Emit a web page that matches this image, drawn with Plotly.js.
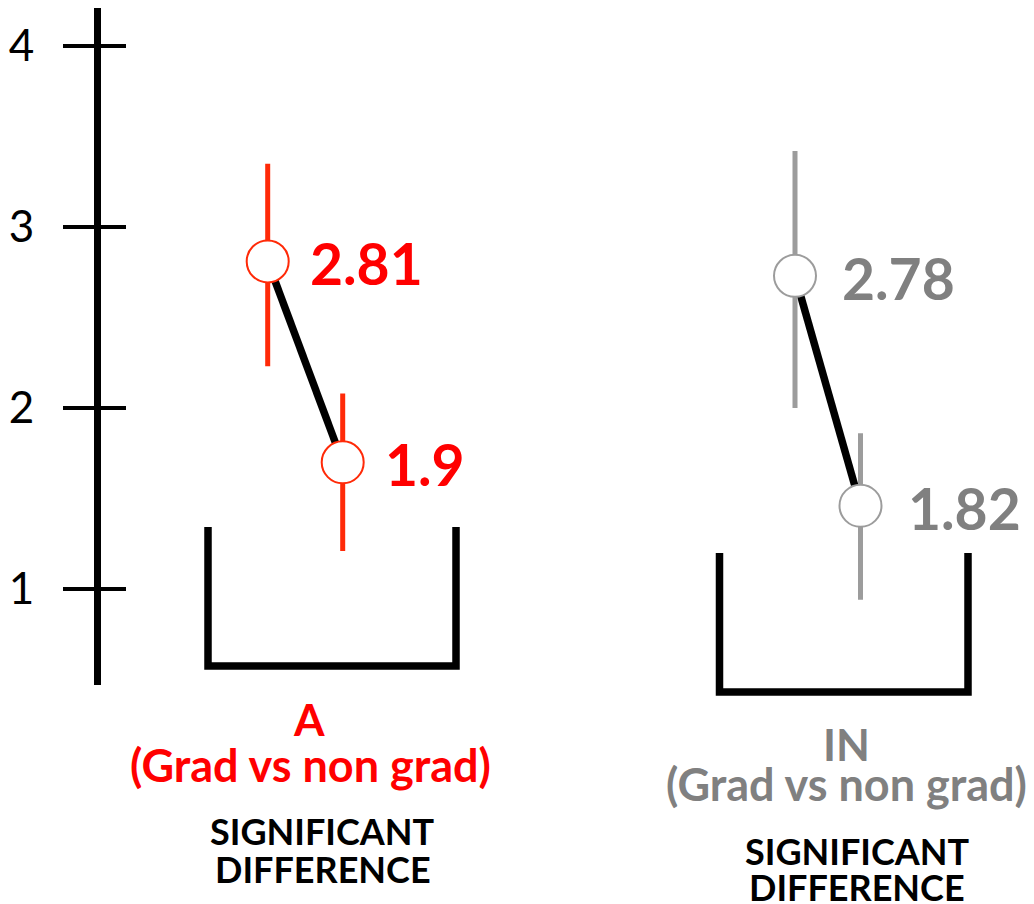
<!DOCTYPE html>
<html>
<head>
<meta charset="utf-8">
<script src="https://cdn.plot.ly/plotly-3.0.1.min.js"></script>
<style>html,body{margin:0;padding:0;background:#fff;}#chart{width:1034px;height:904px;}</style>
</head>
<body>
<div id="chart"></div>
<script>
// ---- data ----
const conditions = ["Grad", "Non grad"];
const tickValues = [1, 2, 3, 4];
const tickLabels = ["1", "2", "3", "4"];

const aMeans = [2.81, 1.70];
const aUpper = [3.35, 2.08];
const aLower = [2.23, 1.21];
const aLabels = ["2.81", "1.9"];

const inMeans = [2.73, 1.46];
const inUpper = [3.42, 1.86];
const inLower = [2.00, 0.94];
const inLabels = ["2.78", "1.82"];

const groupNames = ["A", "IN"];
const comparison = "(Grad vs non grad)";
const verdict = ["SIGNIFICANT", "DIFFERENCE"];

// ---- styling ----
const W = 1034, H = 904;
const px = v => v / W;
const py = v => 1 - v / H;
const FONT = "Lato, 'Open Sans', sans-serif";
const RED = "#ff0000", RED_BAR = "#ff2a08";
const GRAY = "#808080", GRAY_BAR = "#9c9c9c";

const up = (u, m) => u.map((v, i) => +(v - m[i]).toFixed(3));
const dn = (l, m) => l.map((v, i) => +(m[i] - v).toFixed(3));

function lineTrace(means, xa) {
  return {x: conditions, y: means, xaxis: xa, yaxis: "y", mode: "lines",
    line: {color: "#000", width: 7.5}, hoverinfo: "skip", showlegend: false};
}
function pointTrace(means, upper, lower, xa, barColor) {
  return {x: conditions, y: means, xaxis: xa, yaxis: "y", mode: "markers",
    marker: {symbol: "circle", size: 42, color: "#fff", line: {color: barColor, width: 2}},
    error_y: {type: "data", symmetric: false, array: up(upper, means), arrayminus: dn(lower, means),
      color: barColor, thickness: 5, width: 0},
    showlegend: false};
}

const traces = [
  lineTrace(aMeans, "x"),
  pointTrace(aMeans, aUpper, aLower, "x", RED_BAR),
  lineTrace(inMeans, "x2"),
  pointTrace(inMeans, inUpper, inLower, "x2", GRAY_BAR),
  {x: [conditions[0]], y: [null], xaxis: "x", yaxis: "y2", mode: "markers", showlegend: false, hoverinfo: "skip"}
];

const yTop = 4.20994, yBot = 0.46964;
const yDomain = [py(685), py(8)];

const valueAnn = (labels, means, xa, color, shift) => labels.map((t, i) => ({
  xref: xa, yref: "y", x: conditions[i], y: means[i], text: t, showarrow: false,
  xanchor: "left", yanchor: "middle", xshift: shift, yshift: -2,
  font: {family: FONT, size: 57, color: color, weight: 700}
}));

const textAnn = (text, cx, cy, color, size) => ({
  xref: "paper", yref: "paper", x: px(cx), y: py(cy), text: text, showarrow: false,
  xanchor: "center", yanchor: "middle",
  font: {family: FONT, size: size, color: color, weight: 700}
});

const annotations = [
  ...valueAnn(aLabels, aMeans, "x", RED, 40),
  ...valueAnn(inLabels, inMeans, "x2", GRAY, 45),
  textAnn(groupNames[0], 309, 719, RED, 44),
  textAnn(comparison, 310, 765, RED, 45),
  textAnn(verdict[0], 322, 831, "#000", 36),
  textAnn(verdict[1], 323, 869, "#000", 36),
  textAnn(groupNames[1], 846, 744, GRAY, 44),
  textAnn(comparison, 846, 784, GRAY, 45),
  textAnn(verdict[0], 857, 851, "#000", 36),
  textAnn(verdict[1], 857, 887, "#000", 36)
];

const bracket = (x0, x1, top, bottom) => ({
  type: "path", xref: "paper", yref: "paper",
  path: `M ${px(x0)} ${py(top)} L ${px(x0)} ${py(bottom)} L ${px(x1)} ${py(bottom)} L ${px(x1)} ${py(top)}`,
  line: {color: "#000", width: 7.5}
});

const layout = {
  width: W, height: H,
  margin: {l: 0, r: 0, t: 0, b: 0},
  paper_bgcolor: "#fff", plot_bgcolor: "rgba(0,0,0,0)",
  showlegend: false,
  xaxis: {domain: [px(192.7), px(417.7)], range: [-1, 2], type: "category",
    categoryarray: conditions, visible: false, fixedrange: true},
  xaxis2: {domain: [px(729.5), px(926)], range: [-1, 2], type: "category",
    categoryarray: conditions, visible: false, anchor: "y", fixedrange: true},
  yaxis: {domain: yDomain, range: [yBot, yTop], anchor: "free", position: px(97), side: "left",
    showline: true, linecolor: "#000", linewidth: 7,
    ticks: "outside", ticklen: 31, tickwidth: 4, tickcolor: "#000",
    tickmode: "array", tickvals: tickValues, ticktext: tickLabels,
    tickfont: {family: FONT, size: 44, color: "#000"}, ticklabelstandoff: 20,
    showgrid: false, zeroline: false, fixedrange: true},
  yaxis2: {overlaying: "y", range: [yBot, yTop], anchor: "free", position: px(97), side: "left",
    showline: false, ticks: "inside", ticklen: 28, tickwidth: 4, tickcolor: "#000",
    tickmode: "array", tickvals: tickValues, showticklabels: false,
    showgrid: false, zeroline: false, fixedrange: true},
  shapes: [bracket(208, 456, 527, 666), bracket(719.5, 968, 553, 692)],
  annotations: annotations
};

Plotly.newPlot("chart", traces, layout, {displayModeBar: false, staticPlot: true});
</script>
</body>
</html>
